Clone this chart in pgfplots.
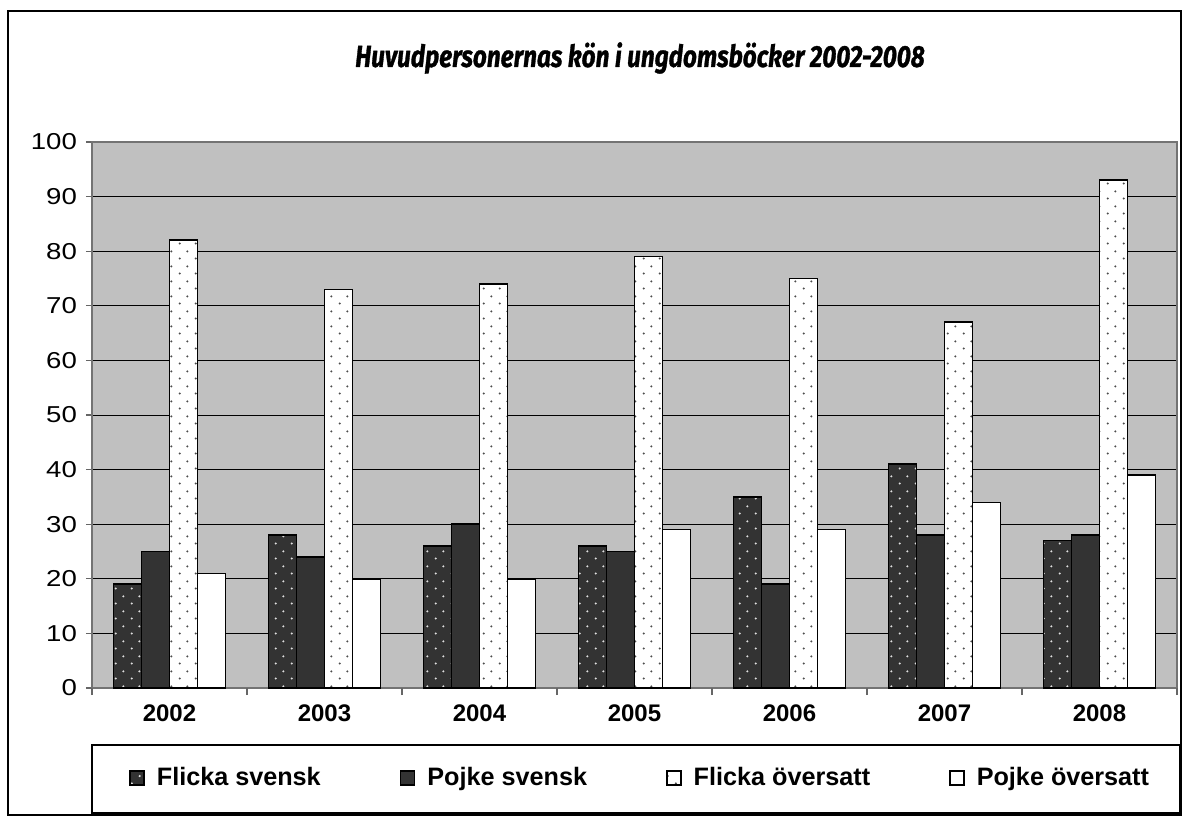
\documentclass[border=0pt]{standalone}
\usepackage{fontspec}
\setmainfont{Liberation Sans}
\newfontfamily\tickfont{Liberation Sans}[FakeStretch=1.2]
\newfontfamily\titlefont{Fira Sans}[FakeStretch=0.8, FakeBold=1]
\usepackage{pgfplots}
\usepackage{pgfplotstable}
\pgfplotsset{compat=1.18}
\usetikzlibrary{patterns.meta}
\definecolor{darkbar}{HTML}{333333}
\definecolor{bggray}{HTML}{C0C0C0}
\tikzdeclarepattern{
  name=sdots,
  type=uncolored,
  bounding box={(0pt,0pt) and (8pt,7.5pt)},
  tile size={(8pt,7.5pt)},
  code={
    \pgfpathcircle{\pgfpoint{2pt}{1.9pt}}{0.6pt}
    \pgfpathcircle{\pgfpoint{6pt}{5.65pt}}{0.6pt}
    \pgfusepath{fill}
  }
}
\pgfplotsset{
  sqlegend/.style={legend image code/.code={\draw[##1, line width=0.8pt] (0pt,-3.5pt) rectangle (7pt,3.5pt);}}
}
\pgfplotstableread{
x fs ps fo po
0 19 25 82 21
1 28 24 73 20
2 26 30 74 20
3 26 25 79 29
4 35 19 75 29
5 41 28 67 34
6 27 28 93 39
}\data
\begin{document}
\begin{tikzpicture}
\useasboundingbox (-46pt,-64pt) rectangle (545pt,344pt);
\draw[black, line width=0.75pt] (-42pt,-63.5pt) rectangle (544.5pt,338.5pt);
\draw[black, line width=0.75pt] (0pt,-28.5pt) rectangle (544pt,-62.5pt);
\node[font=\titlefont\bfseries\itshape\fontsize{15.2}{18}\selectfont] at (274pt,315pt) {Huvudpersonernas kön i ungdomsböcker 2002-2008};
\begin{axis}[
  at={(0pt,0pt)}, anchor=south west,
  scale only axis, width=542.5pt, height=273pt,
  ybar=0pt, bar width=14pt,
  xmin=-0.5, xmax=6.5, ymin=0, ymax=100,
  ytick={0,10,...,100},
  xtick={0,...,6},
  xticklabels={2002,2003,2004,2005,2006,2007,2008},
  xtick style={draw=none},
  extra x ticks={-0.5,0.5,1.5,2.5,3.5,4.5,5.5,6.5},
  extra x tick labels={},
  extra x tick style={xtick style={draw=black!60, line width=0.6pt}, tick align=outside, major tick length=3.5pt, grid=none},
  ytick style={draw=black!60, line width=0.6pt},
  tick align=outside, major tick length=3pt,
  xtick pos=bottom, ytick pos=left,
  axis line style={draw=black!55, line width=0.75pt},
  axis background/.style={fill=bggray},
  ymajorgrids, major grid style={black, line width=0.5pt},
  /pgf/number format/assume math mode=true,
  yticklabel style={font=\tickfont\fontsize{11.5}{13}\selectfont, xshift=-1pt},
  xticklabel style={font=\bfseries\fontsize{12}{14}\selectfont, yshift=-2pt},
  legend columns=4,
  legend style={at={(axis description cs:0.034,-0.1648)}, anchor=west, draw=none, fill=none,
    inner sep=0pt, font=\bfseries\fontsize{12.6}{15}\selectfont,
    nodes={inner xsep=0pt, inner ysep=1pt},
    column sep=6pt,
    /tikz/every even column/.append style={column sep=39.5pt}},
]
\addplot[sqlegend, draw=black, line width=0.8pt, fill=darkbar, postaction={pattern=sdots, pattern color=black!12}] table[x=x,y=fs] {\data};
\addplot[sqlegend, draw=black, line width=0.8pt, fill=darkbar] table[x=x,y=ps] {\data};
\addplot[sqlegend, draw=black, line width=0.8pt, fill=white, postaction={pattern=sdots, pattern color=black!70}] table[x=x,y=fo] {\data};
\addplot[sqlegend, draw=black, line width=0.8pt, fill=white] table[x=x,y=po] {\data};
\legend{Flicka svensk, Pojke svensk, Flicka översatt, Pojke översatt}
\end{axis}
\end{tikzpicture}
\end{document}
